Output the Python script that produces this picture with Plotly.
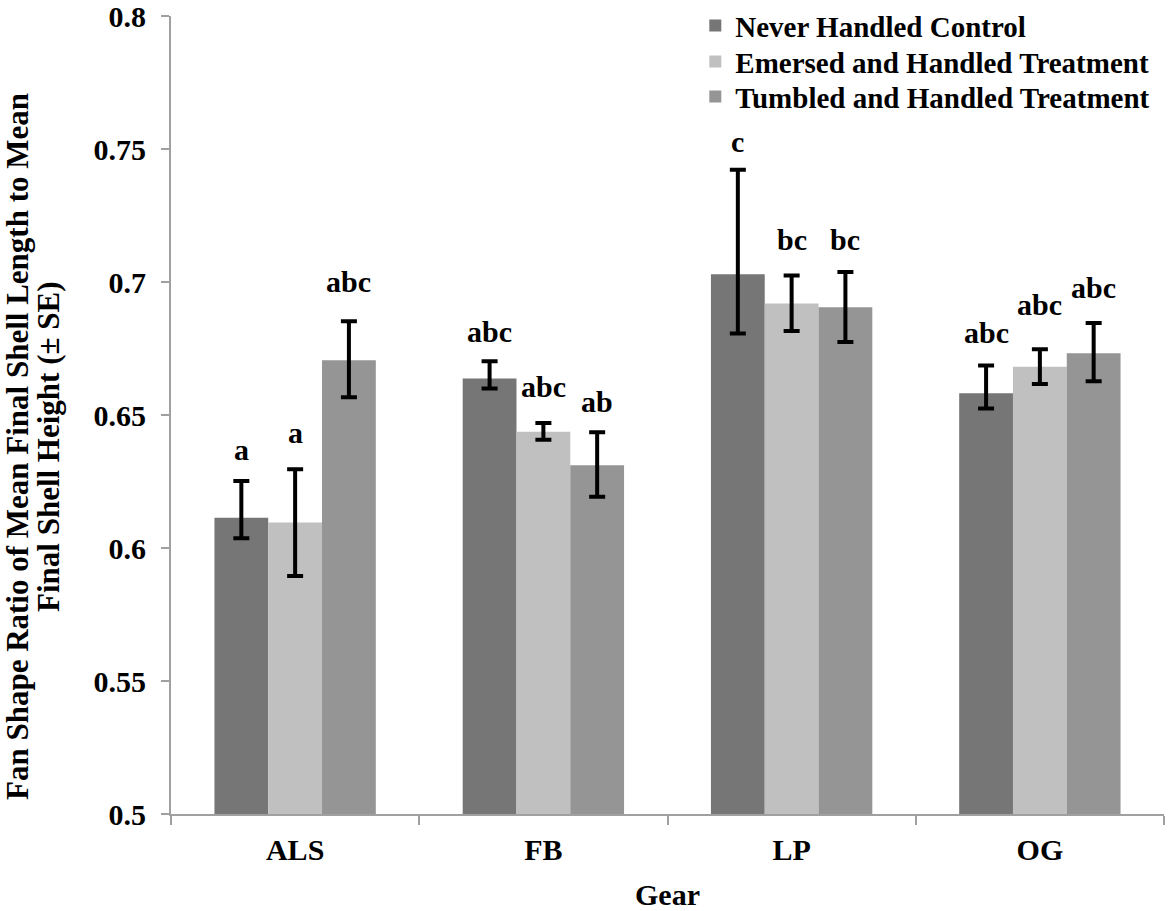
import plotly.graph_objects as go

categories = ["ALS", "FB", "LP", "OG"]
series_names = ["Never Handled Control", "Emersed and Handled Treatment", "Tumbled and Handled Treatment"]
colors = ["#767676", "#c0c0c0", "#959595"]

never_handled = [0.6114, 0.6637, 0.7029, 0.6582]
emersed = [0.6096, 0.6437, 0.6919, 0.6681]
tumbled = [0.6706, 0.6311, 0.6905, 0.6732]

never_err_plus = [0.0138, 0.0065, 0.0393, 0.0104]
never_err_minus = [0.0077, 0.0037, 0.0223, 0.0058]
emersed_err_plus = [0.0200, 0.0033, 0.0105, 0.0066]
emersed_err_minus = [0.0201, 0.0030, 0.0103, 0.0064]
tumbled_err_plus = [0.0146, 0.0124, 0.0133, 0.0114]
tumbled_err_minus = [0.0139, 0.0118, 0.0131, 0.0105]

never_letters = ["a", "abc", "c", "abc"]
emersed_letters = ["a", "abc", "bc", "abc"]
tumbled_letters = ["abc", "ab", "bc", "abc"]
never_letter_y = [0.6371, 0.6815, 0.7527, 0.6809]
emersed_letter_y = [0.6436, 0.6608, 0.7159, 0.6915]
tumbled_letter_y = [0.7001, 0.6552, 0.7159, 0.6981]

y_title_lines = ["Fan Shape Ratio of Mean Final Shell Length to Mean", "Final Shell Height (± SE)"]

FONT = "Liberation Serif"
FS = 30
values = [never_handled, emersed, tumbled]
plus = [never_err_plus, emersed_err_plus, tumbled_err_plus]
minus = [never_err_minus, emersed_err_minus, tumbled_err_minus]
letters = [never_letters, emersed_letters, tumbled_letters]
letter_y = [never_letter_y, emersed_letter_y, tumbled_letter_y]

W, H = 1168, 911
ML, MR, MT, MB = 171, 4, 16, 97
PW, PH = W - ML - MR, H - MT - MB

legend_ids = ["legend", "legend2", "legend3"]
legend_centers_px = [27, 63, 98]

fig = go.Figure()
for i in range(3):
    fig.add_trace(go.Bar(
        x=categories, y=values[i], name="<b>%s</b>" % series_names[i],
        marker=dict(color=colors[i], line=dict(width=0)),
        error_y=dict(type="data", symmetric=False, array=plus[i], arrayminus=minus[i],
                     color="black", thickness=4, width=8),
        legend=legend_ids[i],
    ))

bargap = 0.35
bw = (1 - bargap) / 3
for i in range(3):
    for j, c in enumerate(categories):
        fig.add_annotation(
            x=j + (i - 1) * bw, y=letter_y[i][j], xref="x", yref="y",
            text="<b>%s</b>" % letters[i][j], showarrow=False,
            font=dict(family=FONT, size=FS, color="black"),
            yanchor="middle", xanchor="center",
        )

# y-axis title, two tightly spaced lines
for k, (line, xc) in enumerate(zip(y_title_lines, [17, 48])):
    fig.add_annotation(
        x=(xc - ML) / PW, y=(H - MB - 447) / PH, xref="paper", yref="paper",
        text="<b>%s</b>" % line, textangle=-90, showarrow=False,
        font=dict(family=FONT, size=31, color="black"),
        xanchor="center", yanchor="middle",
    )

legend_style = dict(
    x=0.528, xanchor="left", yanchor="top",
    bgcolor="rgba(0,0,0,0)", font=dict(family=FONT, size=29, color="black"),
    tracegroupgap=0, itemwidth=30,
)
layout_legends = {}
for lid, cpx in zip(legend_ids, legend_centers_px):
    layout_legends[lid] = dict(legend_style, y=1.02 - (cpx - 27) / PH)

fig.update_layout(
    width=W, height=H,
    margin=dict(l=ML, r=MR, t=MT, b=MB, autoexpand=False),
    plot_bgcolor="white", paper_bgcolor="white",
    barmode="group", bargap=bargap, bargroupgap=0,
    font=dict(family=FONT, size=FS, color="black"),
    showlegend=True,
    **layout_legends,
)
fig.update_xaxes(
    type="category", showline=True, linecolor="#a0a0a0", linewidth=2,
    ticks="outside", tickson="boundaries", ticklen=9, tickcolor="#a0a0a0", tickwidth=2,
    tickfont=dict(family=FONT, size=FS, color="black"),
    ticklabelstandoff=8, automargin=False,
    title=dict(text="<b>Gear</b>", font=dict(family=FONT, size=FS, color="black"), standoff=22),
    showgrid=False, tickprefix="<b>", ticksuffix="</b>",
)
fig.update_yaxes(
    range=[0.5, 0.8], dtick=0.05, tick0=0.5, showline=True, linecolor="#a0a0a0", linewidth=2,
    ticks="outside", ticklen=8, tickcolor="#a0a0a0", tickwidth=2,
    tickfont=dict(family=FONT, size=FS, color="black"),
    tickprefix="<b>", ticksuffix="</b>", ticklabelstandoff=9, ticklabeloverflow="allow",
    showgrid=False, zeroline=False, automargin=False,
)

fig.write_html("out.html", config={"displayModeBar": False},
               post_script="document.body.style.margin='0';")
